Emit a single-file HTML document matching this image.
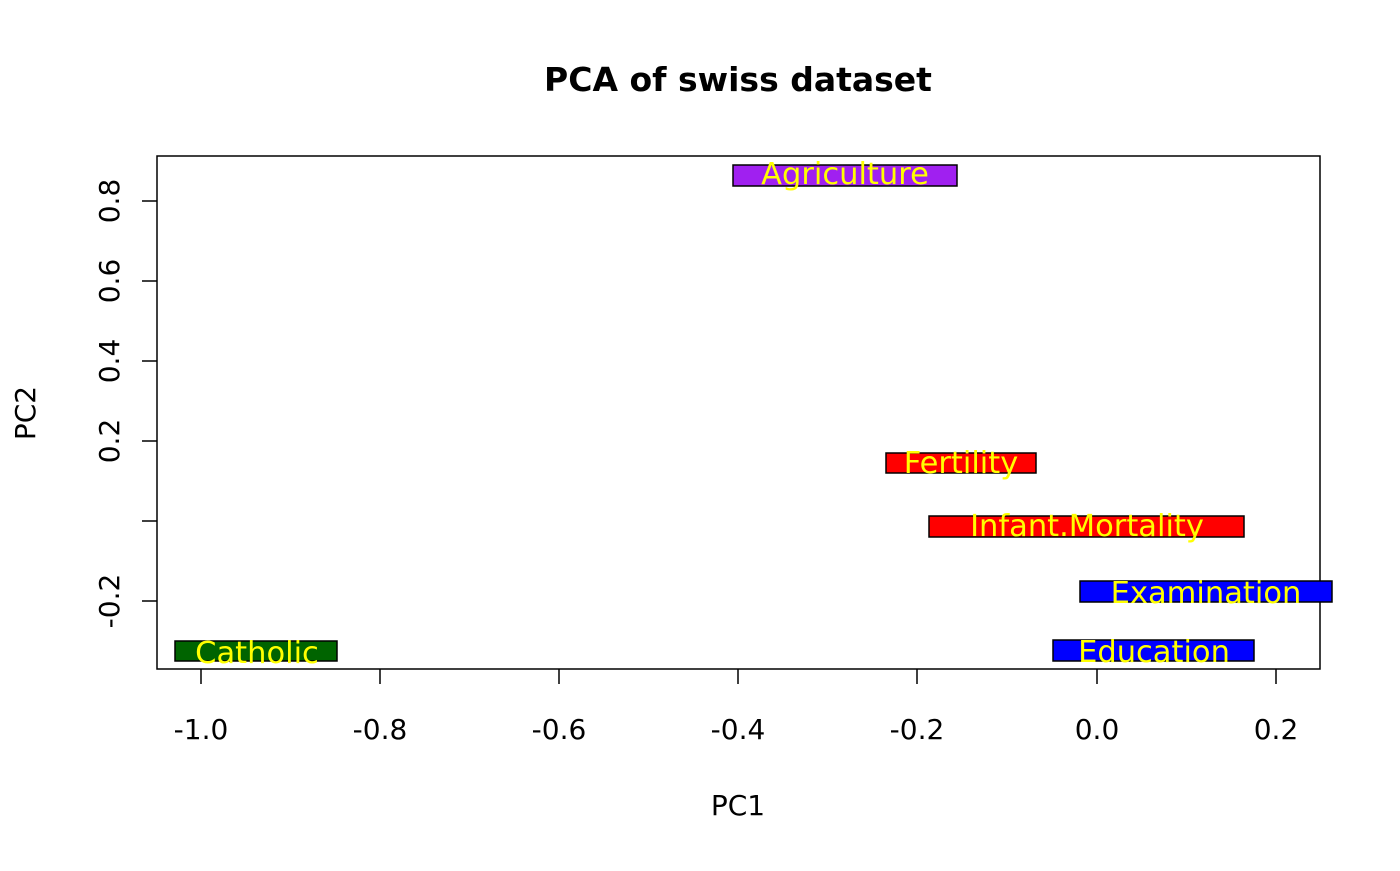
<!DOCTYPE html>
<html><head><style>body{margin:0;background:#fff}</style></head><body>
<svg width="1400" height="866" xmlns="http://www.w3.org/2000/svg" font-family="'DejaVu Sans','Liberation Sans',sans-serif">
<rect width="1400" height="866" fill="#fff"/>
<text x="738" y="91" text-anchor="middle" font-size="33" font-weight="bold">PCA of swiss dataset</text>
<g stroke="#000" stroke-width="1.5" fill="none">
<rect x="157" y="156" width="1163" height="513"/>
<line x1="201" y1="669" x2="201" y2="684"/><line x1="380" y1="669" x2="380" y2="684"/>
<line x1="559" y1="669" x2="559" y2="684"/><line x1="738" y1="669" x2="738" y2="684"/>
<line x1="917" y1="669" x2="917" y2="684"/><line x1="1097" y1="669" x2="1097" y2="684"/>
<line x1="1276" y1="669" x2="1276" y2="684"/>
<line x1="142" y1="201" x2="157" y2="201"/><line x1="142" y1="281" x2="157" y2="281"/>
<line x1="142" y1="361" x2="157" y2="361"/><line x1="142" y1="441" x2="157" y2="441"/>
<line x1="142" y1="521" x2="157" y2="521"/><line x1="142" y1="601" x2="157" y2="601"/>
</g>
<g font-size="28" text-anchor="middle">
<text x="201" y="739">-1.0</text><text x="380" y="739">-0.8</text><text x="559" y="739">-0.6</text>
<text x="738" y="739">-0.4</text><text x="917" y="739">-0.2</text><text x="1097" y="739">0.0</text><text x="1276" y="739">0.2</text>
<text transform="translate(119,201) rotate(-90)">0.8</text>
<text transform="translate(119,281) rotate(-90)">0.6</text>
<text transform="translate(119,361) rotate(-90)">0.4</text>
<text transform="translate(119,441) rotate(-90)">0.2</text>
<text transform="translate(119,601) rotate(-90)">-0.2</text>
<text x="738" y="815">PC1</text>
<text transform="translate(35,413) rotate(-90)">PC2</text>
</g>
<g stroke="#000" stroke-width="1.5">
<rect x="733" y="165" width="224" height="21" fill="#a020f0"/>
<rect x="886" y="453" width="150" height="20" fill="#f00"/>
<rect x="929" y="516" width="315" height="21" fill="#f00"/>
<rect x="1080" y="581" width="252" height="21" fill="#00f"/>
<rect x="1053" y="640" width="201" height="21" fill="#00f"/>
<rect x="175" y="641" width="162" height="20" fill="#006400"/>
</g>
<g fill="#ff0" font-size="30.5" text-anchor="middle">
<text x="845" y="184">Agriculture</text>
<text x="961" y="473">Fertility</text>
<text x="1087" y="536">Infant.Mortality</text>
<text x="1206" y="603">Examination</text>
<text x="1154" y="662">Education</text>
<text x="257" y="663">Catholic</text>
</g>
</svg>
</body></html>
